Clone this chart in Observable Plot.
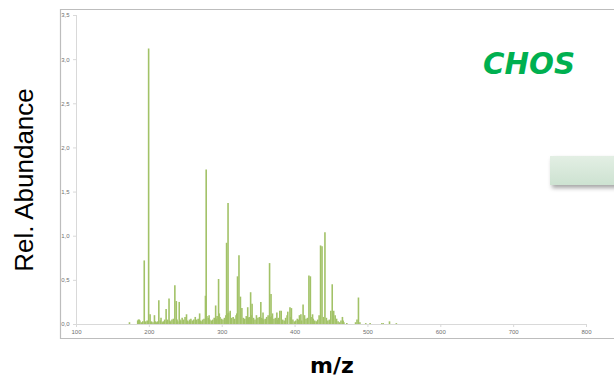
<!DOCTYPE html>
<html><head><meta charset="utf-8">
<script src="https://cdn.jsdelivr.net/npm/d3@7"></script>
<script src="https://cdn.jsdelivr.net/npm/@observablehq/plot@0.6"></script>
<style>body{margin:0;background:#fff} #chart{position:relative;width:614px;height:380px}</style>
</head><body><div id="chart"></div>
<script>
const mz = [172.7,184,185,186,187,189,191,193,195,197,199,201,202,203,205,207,208,210,211,213,215,216,218,219,221,223,224,225,227,228,229,231,233,235,237,238,239,241,242,243,245,247,249,251,252,253,255,256,257,259,261,263,264,265,267,269,270,271,273,275,277,278,279,281,282,283,285,287,289,291,292,293,295,296,297,299,301,303,305,306,307,308,309,311,312,313,315,317,319,320,321,323,325,327,329,331,333,335,336,337,339,340,341,343,345,347,349,351,353,354,355,356,357,359,361,363,365,366,367,368,369,371,373,375,376,377,379,381,383,385,387,389,390,393,394,395,397,399,401,403,405,406,408,409,411,413,415,417,419,421,422,424,425,427,429,431,433,435,437,439,441,443,445,447,449,451,453,455,457,459,461,463,465,466,467,471,483,485,487,489,497,503,519,521,529.6,539];
const abundance = [0.02,0.04,0.05,0.05,0.04,0.02,0.03,0.72,0.03,0.04,3.12,0.11,0.02,0.03,0.02,0.10,0.03,0.02,0.03,0.27,0.04,0.07,0.02,0.03,0.05,0.17,0.03,0.05,0.29,0.04,0.03,0.05,0.06,0.44,0.26,0.05,0.03,0.25,0.05,0.04,0.07,0.05,0.08,0.11,0.04,0.03,0.05,0.03,0.06,0.04,0.05,0.08,0.03,0.05,0.06,0.12,0.04,0.03,0.05,0.06,0.32,1.75,0.09,0.07,0.10,0.05,0.04,0.05,0.07,0.21,0.06,0.09,0.51,0.12,0.08,0.06,0.05,0.07,0.10,0.92,0.12,1.37,0.13,0.15,0.06,0.07,0.08,0.06,0.10,0.12,0.54,0.78,0.31,0.18,0.07,0.06,0.09,0.19,0.07,0.08,0.36,0.10,0.23,0.07,0.05,0.10,0.07,0.08,0.25,0.07,0.06,0.13,0.05,0.06,0.08,0.10,0.69,0.08,0.34,0.09,0.12,0.06,0.07,0.13,0.05,0.07,0.15,0.15,0.05,0.04,0.07,0.10,0.14,0.19,0.08,0.18,0.05,0.03,0.04,0.06,0.05,0.10,0.11,0.04,0.22,0.10,0.06,0.07,0.55,0.54,0.08,0.11,0.06,0.04,0.03,0.05,0.10,0.89,0.88,0.08,1.04,0.07,0.04,0.05,0.15,0.45,0.15,0.10,0.06,0.03,0.02,0.04,0.08,0.04,0.02,0.01,0.02,0.05,0.30,0.02,0.01,0.01,0.01,0.01,0.03,0.01];
const xTicks = [100,200,300,400,500,600,700,800];
const yTicks = [0,0.5,1,1.5,2,2.5,3,3.5];
const yLabel = "Rel. Abundance";
const xLabel = "m/z";
const tag = "CHOS";

const data = mz.map((m, i) => ({mz: m, v: abundance[i]}));
const fmt = d => d.toFixed(1).replace(".", ",");

const plot = Plot.plot({
  width: 614, height: 380,
  marginLeft: 76, marginRight: 28, marginTop: 15, marginBottom: 56,
  style: {fontFamily: "'Liberation Sans', Arial, sans-serif", fontSize: "6px", background: "white"},
  x: {domain: [100, 800], label: null},
  y: {domain: [0, 3.5], label: null},
  marks: [
    Plot.ruleY([0], {stroke: "#d9d9d9", strokeWidth: 1}),
    Plot.ruleX([100], {stroke: "#d9d9d9", strokeWidth: 1}),
    Plot.ruleX(data, {x: "mz", y: "v", stroke: "#a2c267", strokeWidth: 1.6}),
    Plot.axisX({ticks: xTicks, tickSize: 3, tickPadding: 2, stroke: "#d9d9d9", fill: "#6f6f6f", fontSize: 6, label: null}),
    Plot.axisY({ticks: yTicks, tickSize: 3, tickPadding: 4, stroke: "#d9d9d9", fill: "#6f6f6f", fontSize: 6, tickFormat: fmt, label: null})
  ]
});

const svg = d3.select(plot);
const defs = svg.append("defs");
const grad = defs.append("linearGradient").attr("id", "boxg").attr("x1", 0).attr("y1", 0).attr("x2", 0).attr("y2", 1);
grad.append("stop").attr("offset", "0%").attr("stop-color", "#e3efe4");
grad.append("stop").attr("offset", "100%").attr("stop-color", "#cde2d1");
const filt = defs.append("filter").attr("id", "sh").attr("x", "-20%").attr("y", "-20%").attr("width", "150%").attr("height", "160%");
filt.append("feDropShadow").attr("dx", 2).attr("dy", 3).attr("stdDeviation", 2).attr("flood-color", "#000").attr("flood-opacity", 0.35);

// outer frame
svg.append("path").attr("d", "M620,9.5 H60.5 V338.5 H620").attr("fill", "none").attr("stroke", "#bdbdbd").attr("stroke-width", 1.2);
// decorative box
svg.append("rect").attr("x", 550).attr("y", 156).attr("width", 80).attr("height", 29)
  .attr("fill", "url(#boxg)").attr("filter", "url(#sh)");

svg.append("text").text(yLabel)
  .attr("transform", "translate(33,180) rotate(-90)")
  .attr("text-anchor", "middle").attr("fill", "#000")
  .style("font-family", "'Liberation Sans', Arial, sans-serif").style("font-size", "26px");

svg.append("text").text(xLabel)
  .attr("x", 332).attr("y", 373).attr("text-anchor", "middle").attr("fill", "#000")
  .style("font-family", "'DejaVu Sans', sans-serif").style("font-weight", "bold").style("font-size", "22px");

svg.append("text").text(tag)
  .attr("x", 529).attr("y", 74).attr("text-anchor", "middle").attr("fill", "#00b050")
  .attr("textLength", 92).attr("lengthAdjust", "spacingAndGlyphs")
  .style("font-family", "'DejaVu Sans', sans-serif").style("font-weight", "bold").style("font-style", "italic").style("font-size", "31px");

document.getElementById("chart").appendChild(plot);
</script>
</body></html>
